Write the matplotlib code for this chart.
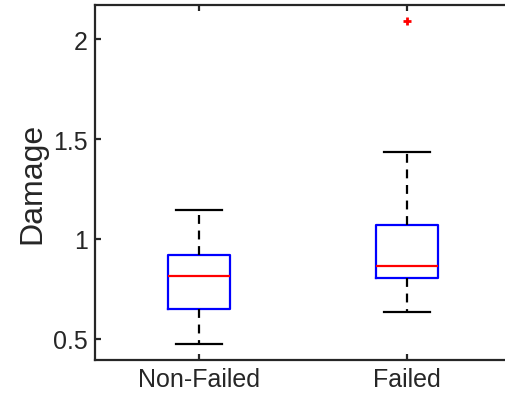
import matplotlib
matplotlib.use("Agg")
import matplotlib.pyplot as plt

# box summary per group (MATLAB-style boxplot)
groups = ["Non-Failed", "Failed"]
q1 = [0.650, 0.803]
med = [0.817, 0.867]
q3 = [0.920, 1.070]
whislo = [0.475, 0.637]
whishi = [1.147, 1.437]
outliers = [[], [2.088]]

plt.rcParams["font.family"] = ["Liberation Sans", "DejaVu Sans"]

fig = plt.figure(figsize=(5.05, 4.02), dpi=100)
# right edge of the axes runs past the figure border
ax = fig.add_axes([95 / 505, 1 - 361 / 402, 416 / 505, 355 / 402])

stats = []
for i in range(len(groups)):
    stats.append(dict(label=groups[i], q1=q1[i], med=med[i], q3=q3[i],
                      whislo=whislo[i], whishi=whishi[i], fliers=outliers[i]))

ax.bxp(stats, positions=[1, 2], widths=0.30, showfliers=True,
       boxprops=dict(color="blue", linewidth=1.6),
       medianprops=dict(color="red", linewidth=1.6),
       whiskerprops=dict(color="black", linewidth=1.6, linestyle=(0, (4, 3))),
       capprops=dict(color="black", linewidth=1.6),
       capwidths=0.225,
       flierprops=dict(marker="+", markeredgecolor="red", markersize=6,
                       markeredgewidth=2, linestyle="none"))

ax.set_xlim(0.5, 2.5)
ax.set_ylim(0.395, 2.17)
ax.set_yticks([0.5, 1, 1.5, 2])
ax.set_yticklabels(["0.5", "1", "1.5", "2"])
ax.set_xticks([1, 2])
ax.set_xticklabels(groups)

for s in ax.spines.values():
    s.set_color("#262626")
    s.set_linewidth(1.6)
ax.spines["right"].set_visible(False)

ax.tick_params(axis="both", direction="in", length=4, width=1.6,
               color="#262626", labelsize=18, labelcolor="#262626", pad=5)
ax.tick_params(axis="x", top=True)
ax.set_ylabel("Damage", fontsize=23, color="#262626", labelpad=4)

fig.savefig("out.png", dpi=100)
